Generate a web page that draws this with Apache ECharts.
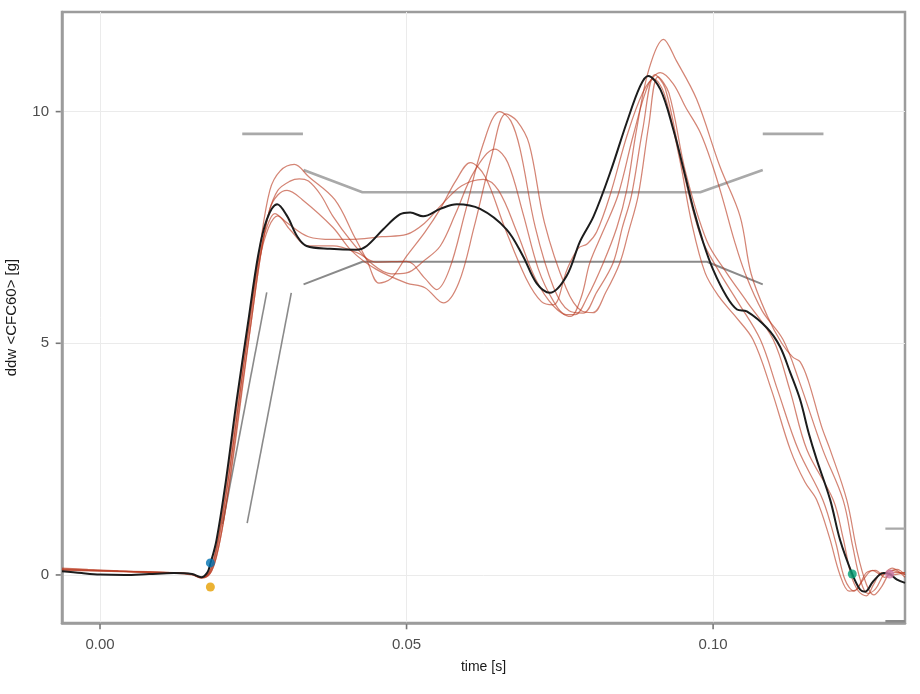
<!DOCTYPE html>
<html>
<head>
<meta charset="utf-8">
<script src="https://cdn.jsdelivr.net/npm/echarts@6/dist/echarts.min.js"></script>
<style>html,body{margin:0;padding:0;background:#fff}#c{width:920px;height:694px}</style>
</head>
<body>
<div id="c"></div>
<script>
// ---- axis ranges and ticks ----
const xMin = -0.0062, xMax = 0.1313;
const yMin = -1.037, yMax = 12.15;
const xTicks = [0, 0.05, 0.10];
const yTicks = [0, 5, 10];

// ---- reference (black) curve [time, ddw] ----
const blackCurve = [[-0.0062,0.08],[-0.003,0.04],[0.000,0.01],[0.004,0.0],[0.008,0.02],[0.012,0.04],[0.015,0.02],[0.0165,-0.05],[0.0175,0.05],[0.018,0.24],[0.019,0.75],[0.0205,2.0],[0.0223,3.78],[0.0241,5.4],[0.0258,6.9],[0.0272,7.67],[0.0289,8.0],[0.0305,7.75],[0.0322,7.3],[0.0337,7.1],[0.0375,7.04],[0.0419,7.02],[0.0435,7.1],[0.0462,7.46],[0.0489,7.78],[0.0506,7.82],[0.0527,7.74],[0.0555,7.9],[0.0582,8.0],[0.062,7.9],[0.0663,7.46],[0.069,6.88],[0.0712,6.3],[0.0734,6.09],[0.0761,6.45],[0.0783,7.2],[0.0805,7.74],[0.0832,8.68],[0.0859,9.76],[0.0881,10.55],[0.0894,10.77],[0.0914,10.48],[0.0935,9.62],[0.0952,8.75],[0.0968,7.89],[0.0984,7.17],[0.1,6.59],[0.1022,6.01],[0.1039,5.73],[0.1055,5.69],[0.1088,5.33],[0.1109,4.93],[0.1126,4.36],[0.1142,3.78],[0.1156,3.06],[0.1169,2.49],[0.1191,1.62],[0.1207,0.76],[0.1227,0.02],[0.124,-0.32],[0.1248,-0.36],[0.1261,-0.14],[0.1278,0.04],[0.1288,0.02],[0.130,-0.1],[0.1313,-0.17]];

// ---- test curves (red) ----
const red1 = [[-0.0062,0.15],[-0.002,0.12],[0.003,0.09],[0.008,0.07],[0.012,0.05],[0.015,0.02],[0.0165,-0.06],[0.0178,0.05],[0.0188,0.45],[0.0200,1.3],[0.0215,2.6],[0.0230,4.1],[0.0245,5.6],[0.0260,7.0],[0.0277,8.3],[0.0294,8.72],[0.0317,8.86],[0.0340,8.6],[0.0383,8.1],[0.0415,7.3],[0.0435,6.8],[0.0455,6.3],[0.0475,6.4],[0.0500,6.88],[0.0530,7.4],[0.0555,7.9],[0.0580,8.5],[0.0604,8.9],[0.0628,8.6],[0.0660,7.5],[0.0695,6.4],[0.0720,5.9],[0.0739,5.83],[0.0762,6.6],[0.0780,7.05],[0.0795,7.15],[0.0810,7.4],[0.0832,8.2],[0.0860,9.5],[0.0885,10.4],[0.0903,10.7],[0.0920,10.4],[0.0945,9.0],[0.0965,7.6],[0.0987,6.52],[0.1010,6.0],[0.1035,5.6],[0.1065,5.08],[0.1095,4.0],[0.1126,2.7],[0.1150,2.0],[0.1169,1.62],[0.1190,0.8],[0.1207,0.0],[0.1222,-0.35],[0.1235,-0.3],[0.1250,0.05],[0.1265,0.1],[0.1280,-0.05],[0.1295,0.05],[0.1313,0.05]];
const red2 = [[-0.0062,0.12],[-0.002,0.1],[0.003,0.08],[0.008,0.06],[0.012,0.05],[0.015,0.01],[0.0166,-0.07],[0.0180,0.04],[0.0190,0.4],[0.0202,1.2],[0.0217,2.5],[0.0232,4.0],[0.0247,5.5],[0.0262,6.9],[0.0275,7.8],[0.0290,8.3],[0.0310,8.5],[0.0325,8.55],[0.0340,8.5],[0.0360,8.2],[0.0380,7.74],[0.0410,7.2],[0.0445,6.7],[0.0475,6.5],[0.0500,6.52],[0.0530,6.8],[0.0555,7.1],[0.0580,7.8],[0.0610,8.7],[0.0644,9.19],[0.0665,8.9],[0.0690,7.8],[0.0715,6.6],[0.0740,5.9],[0.0760,5.62],[0.0775,5.62],[0.0795,6.0],[0.0821,6.74],[0.0843,7.5],[0.0859,8.3],[0.0875,9.6],[0.0895,10.9],[0.0919,11.56],[0.0940,11.1],[0.0973,10.27],[0.1011,8.82],[0.1044,7.74],[0.1062,6.5],[0.1088,5.6],[0.1112,5.0],[0.1130,4.7],[0.1142,4.6],[0.1155,4.2],[0.1177,3.2],[0.1191,2.7],[0.1218,1.62],[0.1235,0.5],[0.1250,-0.2],[0.1262,-0.43],[0.1275,-0.25],[0.1288,0.05],[0.1300,0.12],[0.1313,0.0]];
const red3 = [[-0.0062,0.1],[-0.002,0.09],[0.003,0.07],[0.008,0.05],[0.012,0.04],[0.015,0.0],[0.0165,-0.06],[0.0178,0.06],[0.0188,0.5],[0.0200,1.4],[0.0215,2.8],[0.0230,4.3],[0.0245,5.7],[0.0260,6.9],[0.0272,7.5],[0.0285,7.8],[0.0305,7.6],[0.0340,7.3],[0.0380,7.24],[0.0420,7.25],[0.0460,7.3],[0.0500,7.35],[0.0530,7.6],[0.0555,7.96],[0.0590,8.4],[0.0625,8.54],[0.0650,8.3],[0.0680,7.4],[0.0710,6.4],[0.0740,5.8],[0.0767,5.58],[0.0785,6.0],[0.0799,6.74],[0.0820,7.4],[0.0845,8.2],[0.0870,9.5],[0.0895,10.6],[0.0914,10.84],[0.0935,10.6],[0.0955,10.1],[0.0979,9.55],[0.1000,8.8],[0.1016,8.1],[0.1035,7.2],[0.1052,6.52],[0.1080,5.7],[0.1114,5.08],[0.1140,4.2],[0.1179,2.7],[0.1212,1.62],[0.1228,0.6],[0.1240,-0.1],[0.1252,-0.4],[0.1265,-0.3],[0.1278,0.0],[0.1292,0.15],[0.1305,0.05],[0.1313,-0.05]];
const red4 = [[-0.0062,0.13],[-0.002,0.11],[0.003,0.08],[0.008,0.06],[0.012,0.05],[0.015,0.02],[0.0165,-0.05],[0.0179,0.05],[0.0189,0.45],[0.0201,1.3],[0.0216,2.7],[0.0231,4.2],[0.0246,5.6],[0.0260,6.8],[0.0275,7.5],[0.0290,7.75],[0.0310,7.45],[0.0340,7.1],[0.0380,7.1],[0.0420,6.95],[0.0450,6.75],[0.0500,6.77],[0.0530,6.4],[0.0549,6.16],[0.0570,6.6],[0.0595,7.8],[0.0625,9.3],[0.0652,10.0],[0.0670,9.8],[0.0685,9.2],[0.0710,7.5],[0.0740,6.2],[0.0765,5.7],[0.0788,5.65],[0.0810,6.1],[0.0837,6.74],[0.0852,7.5],[0.0867,8.2],[0.0885,9.6],[0.0905,10.8],[0.0922,10.5],[0.0950,8.8],[0.0980,7.3],[0.1011,6.52],[0.1040,5.9],[0.1077,5.08],[0.1105,4.0],[0.1139,2.7],[0.1179,1.62],[0.1200,0.7],[0.1215,-0.1],[0.1230,-0.35],[0.1245,-0.1],[0.1260,0.1],[0.1275,0.0],[0.1290,0.1],[0.1313,0.0]];
const red5 = [[-0.0062,0.11],[-0.002,0.1],[0.003,0.08],[0.008,0.06],[0.012,0.05],[0.015,0.01],[0.0166,-0.06],[0.0180,0.04],[0.0190,0.4],[0.0202,1.2],[0.0217,2.6],[0.0232,4.1],[0.0247,5.5],[0.0262,6.9],[0.0277,7.9],[0.0290,8.2],[0.0305,8.3],[0.0330,8.1],[0.0380,7.5],[0.0410,7.0],[0.0450,6.6],[0.0500,6.3],[0.0530,6.2],[0.0560,5.87],[0.0585,6.3],[0.0610,7.5],[0.0638,9.0],[0.0662,9.95],[0.0680,9.8],[0.0700,9.3],[0.0725,7.6],[0.0760,6.2],[0.0785,5.7],[0.0804,5.66],[0.0825,6.1],[0.0848,6.74],[0.0862,7.4],[0.0878,8.2],[0.0895,9.7],[0.0910,10.75],[0.0928,10.4],[0.0955,8.7],[0.0990,7.2],[0.1022,6.52],[0.1055,5.9],[0.1098,5.08],[0.1125,4.0],[0.1153,2.7],[0.1196,1.62],[0.1212,0.8],[0.1225,0.0],[0.1237,-0.35],[0.1250,-0.45],[0.1262,-0.2],[0.1275,0.05],[0.1290,0.0],[0.1313,0.05]];

// ---- corridor segments ----
const upperRise = [[0.0200,1.1],[0.0272,6.1]];
const upperTopLeft = [[0.0232,9.52],[0.0331,9.52]];
const upperPlateau = [[0.0332,8.74],[0.0428,8.26],[0.0979,8.26],[0.1081,8.74]];
const upperTopRight = [[0.1081,9.52],[0.1180,9.52]];
const upperEnd = [[0.1281,1.0],[0.1313,1.0]];
const lowerRise = [[0.0240,1.12],[0.0312,6.09]];
const lowerPlateau = [[0.0332,6.27],[0.0428,6.76],[0.0990,6.76],[0.1081,6.27]];
const lowerEnd = [[0.1281,-1.0],[0.1313,-1.0]];

// ---- event markers ----
const markerBlue = [[0.0180,0.26]];
const markerOrange = [[0.0180,-0.26]];
const markerGreen = [[0.1227,0.02]];
const markerPink = [[0.1288,0.02]];

const chart = echarts.init(document.getElementById('c'), null, {renderer:'canvas'});
const FONT = 'Liberation Sans, Arial, sans-serif';
function corridor(data, color, width){
  return {type:'line', data:data, symbol:'none', silent:true, z:2,
    lineStyle:{color:color, width:width}};
}
function red(data){
  return {type:'line', data:data, symbol:'none', smooth:0.35, silent:true, z:3,
    lineStyle:{color:'rgba(186,58,32,0.62)', width:1.25}};
}
function marker(data, color){
  return {type:'scatter', data:data, symbol:'circle', symbolSize:9, z:10,
    itemStyle:{color:color}};
}
// outward tick marks placed through the axis scales at the tick values
function tickMarks(data, size, offset){
  return {type:'scatter', data:data, symbol:'rect', symbolSize:size, symbolOffset:offset,
    clip:false, silent:true, z:12, itemStyle:{color:'#555555'}};
}
const upperC = '#a9a9a9', lowerC = '#8a8a8a';
const frameC = '#9c9c9c';
chart.setOption({
  animation:false,
  backgroundColor:'#ffffff',
  grid:{left:62, right:15, top:12, bottom:71, show:true, borderColor:frameC, borderWidth:2.5,
    containLabel:false, outerBoundsMode:'none'},
  xAxis:{type:'value', min:xMin, max:xMax, position:'bottom',
    name:'time [s]', nameLocation:'middle', nameGap:37,
    nameTextStyle:{fontFamily:FONT, fontSize:14, color:'#1a1a1a'},
    axisLine:{show:true, onZero:false, lineStyle:{color:frameC, width:2.5}},
    axisTick:{show:false, customValues:xTicks},
    axisLabel:{customValues:xTicks, formatter:v=>v.toFixed(2), fontFamily:FONT, fontSize:15, color:'#4d4d4d', margin:14},
    splitLine:{show:true, lineStyle:{color:'#ebebeb', width:1}}},
  yAxis:{type:'value', min:yMin, max:yMax, position:'left',
    name:'ddw <CFC60> [g]', nameLocation:'middle', nameGap:43, nameRotate:90,
    nameTextStyle:{fontFamily:FONT, fontSize:15, color:'#1a1a1a'},
    axisLine:{show:true, onZero:false, lineStyle:{color:frameC, width:2.5}},
    axisTick:{show:false, customValues:yTicks},
    axisLabel:{customValues:yTicks, fontFamily:FONT, fontSize:15, color:'#4d4d4d', margin:13},
    splitLine:{show:true, lineStyle:{color:'#ebebeb', width:1}}},
  series:[
    corridor(upperRise, lowerC, 1.6),
    corridor(upperTopLeft, upperC, 2.8),
    corridor(upperPlateau, upperC, 2.6),
    corridor(upperTopRight, upperC, 2.8),
    corridor(upperEnd, upperC, 2.4),
    corridor(lowerRise, lowerC, 1.6),
    corridor(lowerPlateau, lowerC, 2.0),
    corridor(lowerEnd, lowerC, 2.4),
    red(red1), red(red2), red(red3), red(red4), red(red5),
    {type:'line', data:blackCurve, symbol:'none', smooth:0.35, silent:true, z:5,
      lineStyle:{color:'#1c1c1c', width:2}},
    marker(markerBlue, '#0072B2'),
    marker(markerOrange, '#E69F00'),
    marker(markerGreen, '#009E73'),
    marker(markerPink, '#CC79A7'),
    tickMarks(yTicks.map(v=>[xMin, v]), [5, 1.6], [-3.8, 0]),
    tickMarks(xTicks.map(v=>[v, yMin]), [1.6, 5], [0, 3.8])
  ]
});
</script>
</body>
</html>
